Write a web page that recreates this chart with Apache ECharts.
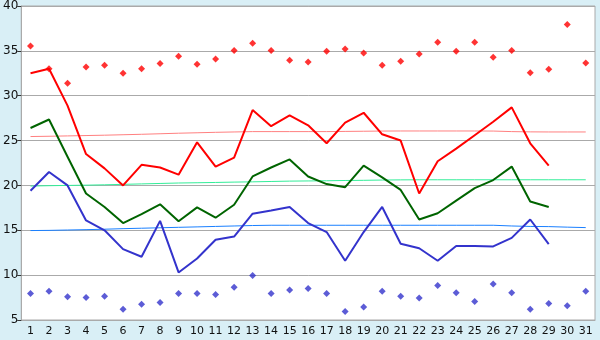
<!DOCTYPE html>
<html>
<head>
<meta charset="utf-8">
<script src="https://cdn.jsdelivr.net/npm/echarts@6/dist/echarts.min.js"></script>
<style>
  html, body { margin: 0; padding: 0; background: #d9eff6; }
  #chart { width: 600px; height: 340px; }
</style>
</head>
<body>
<div id="chart"></div>
<script>
// 日期
const days = Array.from({ length: 31 }, (_, i) => String(i + 1))

// 最高气温 (红线), 平均 (绿线), 最低 (蓝线)
const highTemp = [32.5, 33.0, 28.9, 23.5, 21.9, 20.0, 22.3, 22.0, 21.2, 24.8, 22.1, 23.1, 28.4, 26.6, 27.8, 26.7, 24.7, 27.0, 28.1, 25.7, 25.0, 19.1, 22.7, 24.1, 25.6, 27.1, 28.7, 24.7, 22.2]
const meanTemp = [26.4, 27.35, 23.2, 19.1, 17.6, 15.8, 16.8, 17.9, 16.0, 17.55, 16.4, 17.85, 21.0, 22.0, 22.9, 21.0, 20.15, 19.8, 22.2, 20.9, 19.5, 16.2, 16.9, 18.3, 19.7, 20.6, 22.1, 18.2, 17.6]
const lowTemp = [19.4, 21.5, 20.0, 16.1, 15.0, 12.9, 12.05, 16.05, 10.3, 11.85, 13.95, 14.3, 16.85, 17.2, 17.6, 15.8, 14.8, 11.6, 14.8, 17.6, 13.5, 13.0, 11.6, 13.25, 13.25, 13.2, 14.15, 16.2, 13.45]

// 历史极值 (菱形点)
const recordHigh = [35.55, 33.0, 31.4, 33.2, 33.4, 32.5, 33.0, 33.6, 34.4, 33.5, 34.1, 35.05, 35.85, 35.05, 33.95, 33.75, 34.95, 35.2, 34.75, 33.4, 33.85, 34.65, 35.95, 34.95, 35.95, 34.3, 35.05, 32.55, 32.95, 37.95, 33.65]
const recordLow = [7.95, 8.2, 7.6, 7.5, 7.65, 6.2, 6.75, 6.95, 7.95, 7.95, 7.85, 8.65, 9.95, 7.95, 8.35, 8.5, 7.95, 5.95, 6.45, 8.2, 7.65, 7.45, 8.85, 8.05, 7.05, 9.0, 8.05, 6.2, 6.85, 6.6, 8.2]

// 平年值 (细线)
const normalHigh = [25.45, 25.48, 25.52, 25.56, 25.6, 25.65, 25.7, 25.76, 25.82, 25.87, 25.92, 25.96, 26.0, 26.0, 26.0, 26.0, 26.0, 26.02, 26.04, 26.06, 26.07, 26.07, 26.07, 26.07, 26.07, 26.06, 26.0, 25.97, 25.96, 25.96, 25.96]
const normalMean = [19.93, 19.97, 20.0, 20.03, 20.07, 20.12, 20.17, 20.22, 20.27, 20.3, 20.33, 20.37, 20.4, 20.44, 20.48, 20.5, 20.52, 20.55, 20.57, 20.6, 20.62, 20.63, 20.63, 20.63, 20.63, 20.63, 20.63, 20.63, 20.63, 20.63, 20.63]
const normalLow = [14.97, 14.99, 15.03, 15.07, 15.12, 15.18, 15.23, 15.28, 15.33, 15.38, 15.43, 15.48, 15.53, 15.56, 15.56, 15.56, 15.56, 15.56, 15.56, 15.56, 15.56, 15.56, 15.56, 15.56, 15.56, 15.56, 15.48, 15.43, 15.41, 15.35, 15.3]

const yTicks = { min: 5, max: 40, interval: 5 }

const chart = echarts.init(document.getElementById('chart'))

const thinLine = (data, color) => ({
  type: 'line',
  data: data,
  symbol: 'none',
  silent: true,
  lineStyle: { color: color, width: 1 },
  z: 2,
})

const thickLine = (data, color) => ({
  type: 'line',
  data: data,
  symbol: 'none',
  lineStyle: { color: color, width: 2 },
  z: 3,
})

const dots = (data, color) => ({
  type: 'scatter',
  data: data,
  symbol: 'diamond',
  symbolSize: 7,
  itemStyle: { color: color },
  z: 4,
})

chart.setOption({
  animation: false,
  backgroundColor: '#d9eff6',
  grid: {
    left: 20,
    right: 5,
    top: 5,
    bottom: 20,
    show: true,
    backgroundColor: '#ffffff',
    borderColor: '#aaaaaa',
    borderWidth: 1,
  },
  xAxis: {
    type: 'category',
    data: days,
    boundaryGap: true,
    axisLine: { lineStyle: { color: '#aaaaaa' } },
    axisTick: {
      alignWithLabel: true,
      length: 5,
      lineStyle: { color: '#333333' },
    },
    axisLabel: {
      color: '#111111',
      fontFamily: 'DejaVu Sans',
      fontSize: 11,
      margin: 6,
      interval: 0,
    },
    splitLine: { show: false },
  },
  yAxis: {
    type: 'value',
    min: yTicks.min,
    max: yTicks.max,
    interval: yTicks.interval,
    axisLine: { show: true, lineStyle: { color: '#aaaaaa' } },
    axisTick: { show: true, length: 4, lineStyle: { color: '#333333' } },
    axisLabel: {
      color: '#111111',
      fontFamily: 'DejaVu Sans',
      fontSize: 12,
      margin: 3,
    },
    splitLine: { show: true, lineStyle: { color: '#aaaaaa', width: 1 } },
  },
  series: [
    thinLine(normalHigh, '#ff8080'),
    thinLine(normalMean, '#33ee99'),
    thinLine(normalLow, '#1a80ff'),
    thickLine(highTemp, '#ff0000'),
    thickLine(meanTemp, '#006400'),
    thickLine(lowTemp, '#3333cc'),
    dots(recordHigh, '#ff0000'),
    dots(recordLow, '#3333cc'),
  ],
})
</script>
</body>
</html>
